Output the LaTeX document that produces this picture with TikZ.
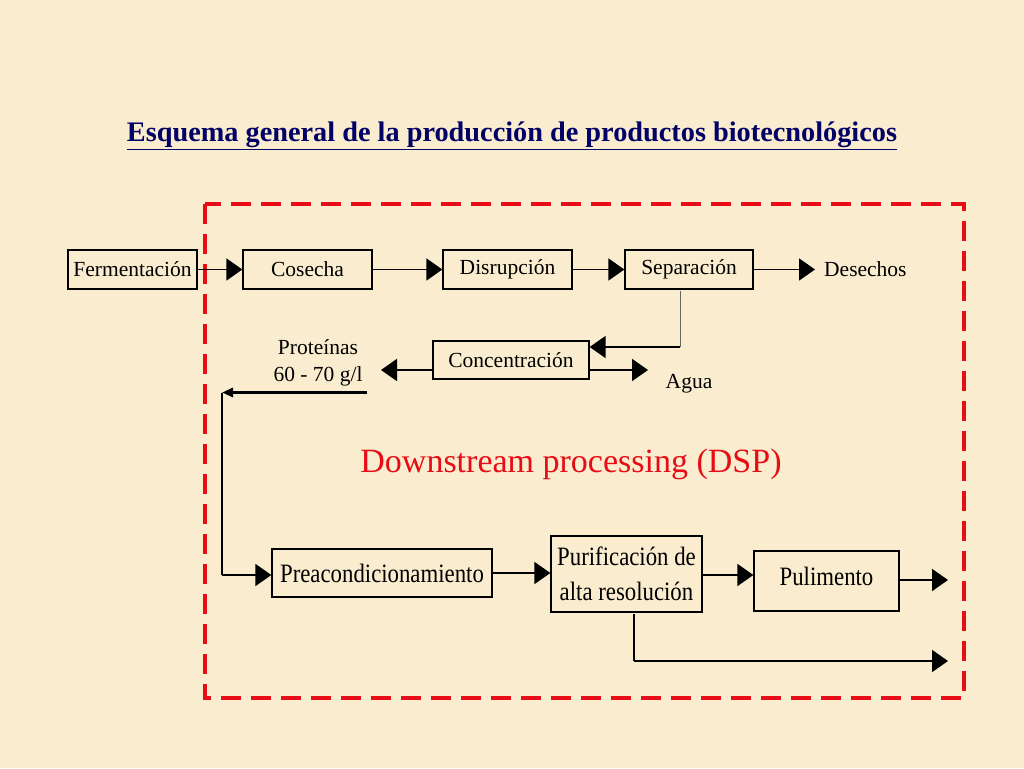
\documentclass[tikz,border=0pt]{standalone}
\usepackage{fontspec}
\setmainfont{Liberation Serif}
\newfontfamily\condfont{Liberation Serif}[FakeStretch=0.86]
\usetikzlibrary{arrows.meta}
\definecolor{paper}{RGB}{250,236,206}
\definecolor{navy}{RGB}{0,0,102}
\definecolor{dspred}{RGB}{232,12,22}
\begin{document}
\begin{tikzpicture}[x=1pt,y=-1pt,
  box/.style={draw=black, line width=1.3pt, inner sep=0pt, text=black,
    font=\fontsize{21.5}{24}\selectfont},
  bigbox/.style={box, font=\condfont\fontsize{26.5}{29}\selectfont, align=center},
  lbl/.style={inner sep=0pt, text=black, font=\fontsize{21.5}{27}\selectfont, align=center},
  flow/.style={draw=black, line width=1.8pt, -{Triangle[length=16pt,width=22pt]}},
  thinflow/.style={draw=black, line width=1.2pt},
  frame/.style={draw=dspred, line width=3.8pt, dash pattern=on 20pt off 10pt}
]
\fill[paper] (0,0) rectangle (1024,768);
\useasboundingbox (0,0) rectangle (1024,768);

% title
\node[inner sep=0pt, text=navy, font=\bfseries\fontsize{28.3}{32}\selectfont] (title) at (512,136)
  {\underline{Esquema general de la producción de productos biotecnológicos}};

% red dashed frame
\draw[frame] (205,204) rectangle (964,698);

% top row
\node[box, minimum width=129pt, minimum height=39pt] (ferm) at (132.5,269.5) {Fermentación};
\node[box, minimum width=129pt, minimum height=39pt] (cos) at (307.5,269.5) {Cosecha};
\node[box, minimum width=129pt, minimum height=39pt] (dis) at (507.5,269.5) {Disrupción};
\node[box, minimum width=128pt, minimum height=39pt] (sep) at (689,269.5) {Separación};
\node[lbl, anchor=west] (des) at (824,269.5) {Desechos};

\draw[flow] (ferm) -- (cos);
\draw[flow] (cos) -- (dis);
\draw[flow] (dis) -- (sep);
\draw[flow] (sep.east) -- (815,269.5) coordinate (desin);

% concentration
\node[box, minimum width=156pt, minimum height=38pt] (conc) at (511,360) {Concentración};
\node[lbl] (prot) at (318,363) {Proteínas\\60 - 70 g/l};
\node[lbl] (agua) at (689,384) {Agua};

\coordinate (sepdown) at (680,291);
\coordinate (sepcorner) at (680,347);
\draw[draw=gray!80!black, line width=1pt] (sepdown) -- (sepcorner);
\draw[flow] (sepcorner) -- (sepcorner -| conc.east);
\coordinate (protin) at (381,370);
\coordinate (aguain) at (648,370);
\draw[flow] (conc.west |- protin) -- (protin);
\draw[flow] (conc.east |- aguain) -- (aguain);

% loop back to bottom row
\coordinate (loopstart) at (367,392.5);
\coordinate (looptop) at (222,392.5);
\coordinate (loopbot) at (222,575);
\draw[draw=black, line width=3pt, -{Triangle[length=11pt,width=9pt]}] (loopstart) -- (looptop);
\draw[thinflow] (looptop) -- (loopbot);

% bottom row
\node[bigbox, minimum width=220pt, minimum height=48pt] (pre) at (382,573) {Preacondicionamiento};
\node[bigbox, minimum width=151pt, minimum height=76pt] (pur) at (626.5,574) {Purificación de\\[6pt]alta resolución};
\node[bigbox, minimum width=145pt, minimum height=60pt] (pul) at (826.5,581) {\raisebox{9pt}{Pulimento}};

\draw[flow] (loopbot) -- (loopbot -| pre.west);
\draw[flow] (pre) -- (pre -| pur.west);
\draw[flow] (pur.east |- 0,575) -- (pul.west |- 0,575);
\coordinate (pulout) at (948,580);
\draw[flow] (pul.east |- pulout) -- (pulout);
\coordinate (purdown) at (634,614);
\coordinate (purcorner) at (634,661);
\coordinate (purout) at (948,661);
\draw[thinflow] (purdown) -- (purcorner);
\draw[flow] (purcorner) -- (purout);

% DSP label
\node[inner sep=0pt, text=dspred, font=\fontsize{34}{38}\selectfont] (dsp) at (571,464) {Downstream processing (DSP)};
\end{tikzpicture}
\end{document}
